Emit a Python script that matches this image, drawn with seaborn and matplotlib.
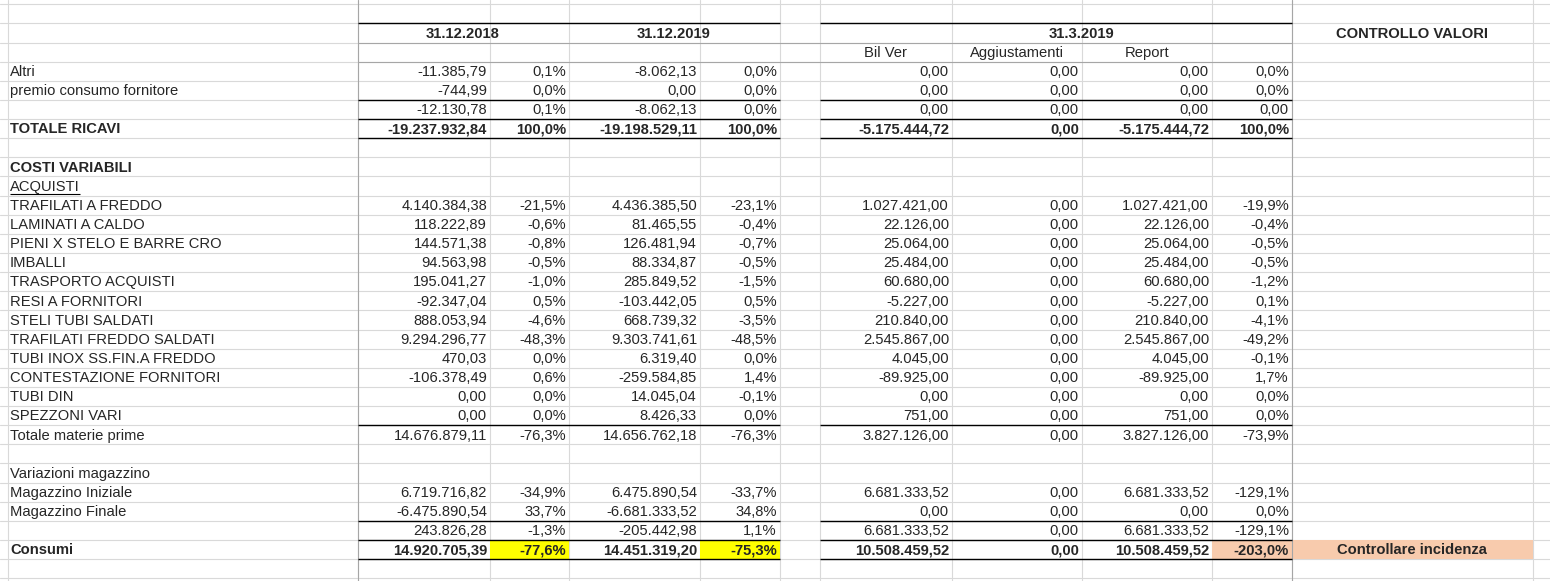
import numpy as np
import pandas as pd
import matplotlib
matplotlib.use("Agg")
import matplotlib.pyplot as plt
import seaborn as sns

sns.set_theme(style="white")
plt.rcParams['font.family'] = ['Liberation Sans', 'DejaVu Sans']

# dati del foglio (righe dalla riga "Altri" alla riga "Consumi")
voci = ["Altri", "premio consumo fornitore", "", "TOTALE RICAVI", "",
        "COSTI VARIABILI", "ACQUISTI", "TRAFILATI A FREDDO", "LAMINATI A CALDO",
        "PIENI X STELO E BARRE CRO", "IMBALLI", "TRASPORTO ACQUISTI",
        "RESI A FORNITORI", "STELI TUBI SALDATI", "TRAFILATI FREDDO SALDATI",
        "TUBI INOX SS.FIN.A FREDDO", "CONTESTAZIONE FORNITORI", "TUBI DIN",
        "SPEZZONI VARI", "Totale materie prime", "", "Variazioni magazzino",
        "Magazzino Iniziale", "Magazzino Finale", "", "Consumi"]

val_2018 = [-11385.79, -744.99, -12130.78, -19237932.84, None, None, None,
            4140384.38, 118222.89, 144571.38, 94563.98, 195041.27, -92347.04,
            888053.94, 9294296.77, 470.03, -106378.49, 0.00, 0.00, 14676879.11,
            None, None, 6719716.82, -6475890.54, 243826.28, 14920705.39]
pct_2018 = [0.1, 0.0, 0.1, 100.0, None, None, None,
            -21.5, -0.6, -0.8, -0.5, -1.0, 0.5, -4.6, -48.3, 0.0, 0.6, 0.0, 0.0,
            -76.3, None, None, -34.9, 33.7, -1.3, -77.6]

val_2019 = [-8062.13, 0.00, -8062.13, -19198529.11, None, None, None,
            4436385.50, 81465.55, 126481.94, 88334.87, 285849.52, -103442.05,
            668739.32, 9303741.61, 6319.40, -259584.85, 14045.04, 8426.33,
            14656762.18, None, None, 6475890.54, -6681333.52, -205442.98,
            14451319.20]
pct_2019 = [0.0, 0.0, 0.0, 100.0, None, None, None,
            -23.1, -0.4, -0.7, -0.5, -1.5, 0.5, -3.5, -48.5, 0.0, 1.4, -0.1, 0.0,
            -76.3, None, None, -33.7, 34.8, 1.1, -75.3]

bil_ver = [0.00, 0.00, 0.00, -5175444.72, None, None, None,
           1027421.00, 22126.00, 25064.00, 25484.00, 60680.00, -5227.00,
           210840.00, 2545867.00, 4045.00, -89925.00, 0.00, 751.00, 3827126.00,
           None, None, 6681333.52, 0.00, 6681333.52, 10508459.52]
aggiustamenti = [0.00, 0.00, 0.00, 0.00, None, None, None] + [0.00] * 13 + \
                [None, None, 0.00, 0.00, 0.00, 0.00]
report = list(bil_ver)
pct_report = [0.0, 0.0, "0,00", 100.0, None, None, None,
              -19.9, -0.4, -0.5, -0.5, -1.2, 0.1, -4.1, -49.2, -0.1, 1.7, 0.0, 0.0,
              -73.9, None, None, -129.1, 0.0, -129.1, -203.0]
controllo = [""] * 25 + ["Controllare incidenza"]

intestazioni = ["31.12.2018", "31.12.2019", "31.3.2019", "CONTROLLO VALORI"]
sottotitoli = ["Bil Ver", "Aggiustamenti", "Report"]

righe_grassetto = {"TOTALE RICAVI", "COSTI VARIABILI", "Consumi"}


def fmt_num(v):
    if v is None:
        return ""
    if isinstance(v, str):
        return v
    s = f"{v:,.2f}"
    return s.replace(",", "#").replace(".", ",").replace("#", ".")


def fmt_pct(v):
    if v is None:
        return ""
    if isinstance(v, str):
        return v
    return f"{v:.1f}".replace(".", ",") + "%"


df = pd.DataFrame({
    "voce": voci,
    "v18": [fmt_num(v) for v in val_2018],
    "p18": [fmt_pct(v) for v in pct_2018],
    "v19": [fmt_num(v) for v in val_2019],
    "p19": [fmt_pct(v) for v in pct_2019],
    "bil": [fmt_num(v) for v in bil_ver],
    "agg": [fmt_num(v) for v in aggiustamenti],
    "rep": [fmt_num(v) for v in report],
    "prep": [fmt_pct(v) for v in pct_report],
    "ctrl": controllo,
})

# geometria del foglio (pixel)
W, H = 1550, 581
col_edges = [0, 8, 358, 490, 569, 700, 780, 820, 952, 1082, 1212, 1292, 1533, 1550]
y0, rh = 4.3, 19.13
n_rows = 30
first_data_row = 3

fig = plt.figure(figsize=(W / 100, H / 100), dpi=100)
ax = fig.add_axes([0, 0, 1, 1])
ax.set_xlim(0, W)
ax.set_ylim(H, 0)
ax.axis("off")


def row_top(r):
    return y0 + r * rh


# griglia
grid_c = "#D9D9D9"
for r in range(-1, n_rows + 1):
    ax.axhline(row_top(r), color=grid_c, lw=0.8, zorder=1)
for x in col_edges[1:-1]:
    ax.axvline(x, color=grid_c, lw=0.8, zorder=1)

# riempimenti riga Consumi
r_cons = first_data_row + voci.index("Consumi")
fills = [(490, 569, "#FFFF00"), (700, 780, "#FFFF00"),
         (1212, 1292, "#F8CBAD"), (1292, 1533, "#F8CBAD")]
for xa, xb, c in fills:
    ax.fill_between([xa, xb], row_top(r_cons), row_top(r_cons + 1),
                    color=c, lw=0, zorder=2)

# bordi grigi e neri
mid_c = "#A6A6A6"
for x in (358, 1292):
    ax.axvline(x, color=mid_c, lw=0.8, zorder=3)
for r in (2, 3):
    ax.hlines(row_top(r), 358, 1292, color=mid_c, lw=0.8, zorder=3)

spans = [(358, 780), (820, 1292)]
bordi = [1, first_data_row + 2, first_data_row + 3, first_data_row + 4,
         first_data_row + voci.index("Totale materie prime"),
         r_cons - 1, r_cons, r_cons + 1]
for r in bordi:
    for xa, xb in spans:
        ax.hlines(row_top(r), xa, xb, color="black", lw=1.0, zorder=4)

fs = 10.6


def cy(r):
    return row_top(r) + rh / 2 + 0.8


# intestazioni
ax.text(463, cy(1), intestazioni[0], ha="center", va="center", fontsize=fs, fontweight="bold")
ax.text(674, cy(1), intestazioni[1], ha="center", va="center", fontsize=fs, fontweight="bold")
ax.text(1081, cy(1), intestazioni[2], ha="center", va="center", fontsize=fs, fontweight="bold")
ax.text(1412, cy(1), intestazioni[3], ha="center", va="center", fontsize=fs, fontweight="bold")
for (xa, xb), t in zip([(820, 952), (952, 1082), (1082, 1212)], sottotitoli):
    ax.text((xa + xb) / 2, cy(2), t, ha="center", va="center", fontsize=fs)

# colonne con valori allineati a destra
num_cols = [("v18", 490), ("p18", 569), ("v19", 700), ("p19", 780),
            ("bil", 952), ("agg", 1082), ("rep", 1212), ("prep", 1292)]

acq_txt = None
for i, row in df.iterrows():
    r = first_data_row + i
    w = "bold" if row["voce"] in righe_grassetto else "normal"
    t = ax.text(10, cy(r), row["voce"], ha="left", va="center", fontsize=fs, fontweight=w)
    if row["voce"] == "ACQUISTI":
        acq_txt = t
    for col, xr in num_cols:
        if row[col]:
            ax.text(xr - 3, cy(r), row[col], ha="right", va="center",
                    fontsize=fs, fontweight=w)
    if row["ctrl"]:
        ax.text(1412, cy(r), row["ctrl"], ha="center", va="center",
                fontsize=fs, fontweight="bold")

# sottolineatura di ACQUISTI
fig.canvas.draw()
bb = acq_txt.get_window_extent().transformed(ax.transData.inverted())
r_acq = first_data_row + voci.index("ACQUISTI")
ax.hlines(row_top(r_acq + 1) - 1.6, bb.x0, bb.x1, color="black", lw=0.8, zorder=5)

fig.savefig("out.png", dpi=100)
